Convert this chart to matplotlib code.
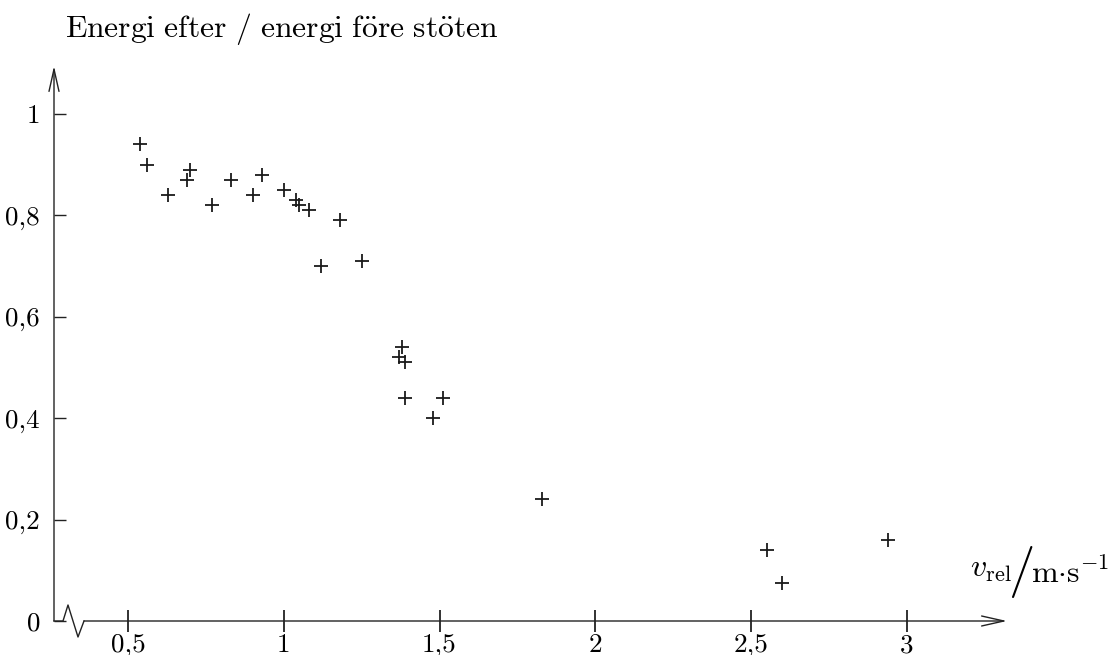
import matplotlib
matplotlib.use("Agg")
import matplotlib.pyplot as plt
from matplotlib.ticker import FixedLocator, FuncFormatter

plt.rcParams['mathtext.fontset'] = 'cm'
plt.rcParams['font.family'] = ['cmr10', 'DejaVu Serif']
plt.rcParams['axes.unicode_minus'] = False

# relative speed (m/s) and energy ratio after/before collision
v_rel = [0.54, 0.56, 0.63, 0.69, 0.70, 0.77, 0.83, 0.90, 0.93, 1.00,
         1.04, 1.05, 1.08, 1.12, 1.18, 1.25, 1.37, 1.38, 1.39, 1.39,
         1.48, 1.51, 1.83, 2.55, 2.60, 2.94]
energy_ratio = [0.94, 0.90, 0.84, 0.87, 0.89, 0.82, 0.87, 0.84, 0.88, 0.85,
                0.83, 0.82, 0.81, 0.70, 0.79, 0.71, 0.52, 0.54, 0.51, 0.44,
                0.40, 0.44, 0.24, 0.14, 0.075, 0.16]

x_ticks = [0.5, 1, 1.5, 2, 2.5, 3]
y_ticks = [0, 0.2, 0.4, 0.6, 0.8, 1]

W, H = 1114, 655
fig = plt.figure(figsize=(W / 100, H / 100), dpi=100)

# axes box: left spine at px 54, x-axis at px 621, arrows end at px 1007 / 66
ax = fig.add_axes([54 / W, (H - 621) / H, (1007 - 54) / W, (621 - 66) / H])
ax.set_xlim(0.2625, 3.3215)
ax.set_ylim(0, 1.0947)
ax.patch.set_visible(False)
for s in ax.spines.values():
    s.set_visible(False)


def comma(v, pos):
    return ('%g' % v).replace('.', ',')


def px(x, y):
    # pixel position -> axes fraction
    return (x - 54) / 953, (621 - y) / 555


ax.xaxis.set_major_locator(FixedLocator(x_ticks))
ax.yaxis.set_major_locator(FixedLocator(y_ticks))
ax.xaxis.set_major_formatter(FuncFormatter(comma))
ax.yaxis.set_major_formatter(FuncFormatter(comma))
ax.tick_params(axis='x', direction='inout', length=16, width=1.3, pad=1,
               labelsize=19.5, color='#222222')
ax.tick_params(axis='y', direction='in', length=8.5, width=1.0, pad=10,
               labelsize=19.5, color='#222222')

ax.plot(v_rel, energy_ratio, linestyle='none', marker='+', markersize=10,
        markeredgewidth=1.3, color='#1a1a1a', clip_on=False)

# axes with open arrow heads
arrow = dict(arrowstyle='->,head_length=0.8,head_width=0.18', lw=1.0,
             color='#222222', shrinkA=0, shrinkB=0, mutation_scale=20)
ax.annotate('', xy=(0, 1), xytext=(0, 0), xycoords='axes fraction',
            textcoords='axes fraction', arrowprops=arrow)
ax.annotate('', xy=(1, 0), xytext=px(84, 621), xycoords='axes fraction',
            textcoords='axes fraction', arrowprops=arrow)

# axis break zigzag near the origin
zig = [px(*p) for p in [(54, 621), (63, 621), (68, 605), (78, 637), (84, 621)]]
ax.plot([p[0] for p in zig], [p[1] for p in zig],
        transform=ax.transAxes, color='#222222', lw=1.0, clip_on=False)

ax.text(*px(65, 37), r'$\mathrm{Energi\ efter\ /\ energi\ f\"ore\ st\"oten}$',
        transform=ax.transAxes, ha='left', va='baseline', fontsize=22.7)

# x-axis unit label: v_rel / m·s^-1 with a tall slash
ax.text(*px(970, 577), r'$v_{\mathrm{rel}}$', transform=ax.transAxes,
        ha='left', va='baseline', fontsize=23)
ax.text(*px(1021, 572), r'$\mathrm{/}$', transform=ax.transAxes,
        ha='center', va='center', fontsize=38)
ax.text(*px(1031, 583), r'$\mathrm{m{\cdot}s}^{-1}$', transform=ax.transAxes,
        ha='left', va='baseline', fontsize=23)

fig.savefig('out.png', dpi=100)
